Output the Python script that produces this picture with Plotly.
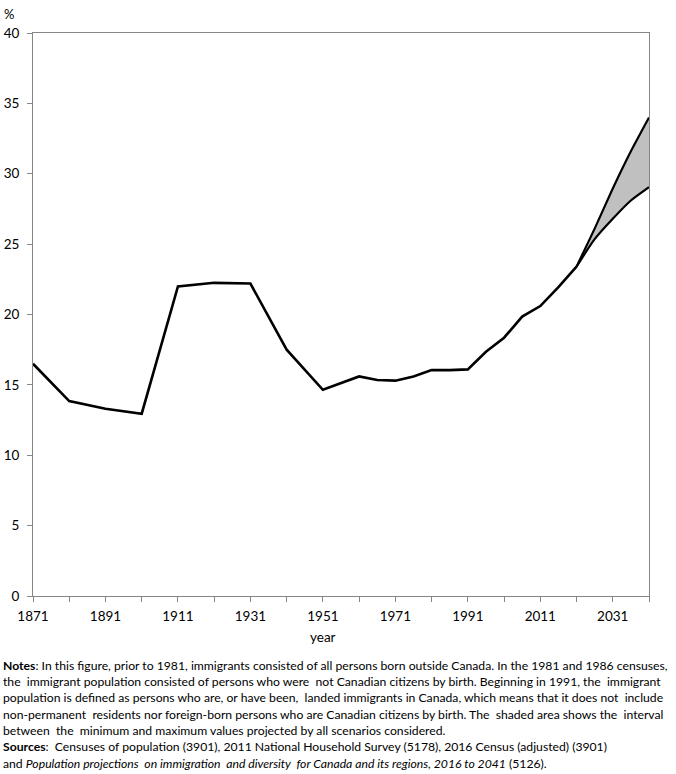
import plotly.graph_objects as go

years = [1871, 1881, 1891, 1901, 1911, 1921, 1931, 1941, 1951, 1956, 1961, 1966,
         1971, 1976, 1981, 1986, 1991, 1996, 2001, 2006, 2011, 2016, 2021]
share = [16.5, 13.85, 13.3, 12.95, 22.0, 22.25, 22.2, 17.5, 14.65, 15.1, 15.6, 15.35,
         15.3, 15.6, 16.05, 16.05, 16.1, 17.35, 18.35, 19.85, 20.6, 21.95, 23.4]

proj_years = [2021, 2026, 2031, 2036, 2041]
proj_low = [23.4, 25.35, 26.8, 28.1, 29.05]
proj_high = [23.4, 26.1, 28.95, 31.6, 34.0]

x_ticks = [1871, 1881, 1891, 1901, 1911, 1921, 1931, 1941, 1951, 1961, 1971, 1981,
           1991, 2001, 2011, 2021, 2031, 2041]
x_labels = ["1871", "", "1891", "", "1911", "", "1931", "", "1951", "", "1971", "",
            "1991", "", "2011", "", "2031", ""]
y_ticks = [0, 5, 10, 15, 20, 25, 30, 35, 40]

note_lines = [
    "<b>Notes</b>: In this figure, prior to 1981, immigrants consisted of all persons born outside Canada. In the 1981 and 1986 censuses,",
    "the  immigrant population consisted of persons who were  not Canadian citizens by birth. Beginning in 1991, the  immigrant",
    "population is defined as persons who are, or have been,  landed immigrants in Canada, which means that it does not  include",
    "non-permanent  residents nor foreign-born persons who are Canadian citizens by birth. The  shaded area shows the  interval",
    "between  the  minimum and maximum values projected by all scenarios considered.",
    "<b>Sources</b>:  Censuses of population (3901), 2011 National Household Survey (5178), 2016 Census (adjusted) (3901)",
    "and <i>Population projections  on immigration  and diversity  for Canada and its regions, 2016 to 2041</i> (5126).",
]
note_y_px = [665.5, 681.5, 697.5, 714, 730, 746.5, 763]

FONT = "Lato"
W, H = 676, 774
L, R, T, B = 33, 649, 33, 596

fig = go.Figure()
fig.add_trace(go.Scatter(x=proj_years, y=proj_low, mode="lines",
                         line=dict(color="black", width=2.2, shape="spline", smoothing=0.6),
                         showlegend=False, hoverinfo="skip"))
fig.add_trace(go.Scatter(x=proj_years, y=proj_high, mode="lines", fill="tonexty",
                         fillcolor="#c0c0c0",
                         line=dict(color="black", width=2.2, shape="spline", smoothing=0.6),
                         showlegend=False, hoverinfo="skip"))
fig.add_trace(go.Scatter(x=years, y=share, mode="lines",
                         line=dict(color="black", width=2.6),
                         showlegend=False))

def px_to_paper_x(px):
    return (px - L) / (R - L)

def px_to_paper_y(py):
    return (B - py) / (B - T)

annotations = [
    dict(text="%", x=px_to_paper_x(2), y=px_to_paper_y(14), xref="paper", yref="paper",
         xanchor="left", yanchor="middle", showarrow=False,
         font=dict(family=FONT, size=13, color="black")),
    dict(text="year", x=px_to_paper_x(323), y=px_to_paper_y(637), xref="paper", yref="paper",
         xanchor="center", yanchor="middle", showarrow=False,
         font=dict(family=FONT, size=13.5, color="black")),
]
for line, py in zip(note_lines, note_y_px):
    annotations.append(dict(text=line, x=px_to_paper_x(1), y=px_to_paper_y(py),
                            xref="paper", yref="paper", xanchor="left", yanchor="middle",
                            showarrow=False, align="left",
                            font=dict(family=FONT, size=12.2, color="black")))

fig.update_layout(
    width=W, height=H,
    margin=dict(l=L, r=W - R, t=T, b=H - B, autoexpand=False),
    paper_bgcolor="white", plot_bgcolor="white",
    font=dict(family=FONT, size=13, color="black"),
    annotations=annotations,
    xaxis=dict(range=[1871, 2041], tickmode="array", tickvals=x_ticks, ticktext=x_labels,
               showgrid=False, zeroline=False, showline=True, linecolor="#868686",
               linewidth=1, mirror=True, ticks="outside", ticklen=5, tickcolor="#868686",
               ticklabelstandoff=3, automargin=False,
               tickfont=dict(family=FONT, size=13.5, color="black")),
    yaxis=dict(range=[0, 40], tickmode="array", tickvals=y_ticks,
               showgrid=False, zeroline=False, showline=True, linecolor="#868686",
               linewidth=1, mirror=True, ticks="outside", ticklen=5, tickcolor="#868686",
               ticklabelstandoff=5, automargin=False,
               tickfont=dict(family=FONT, size=13.5, color="black")),
)

fig.write_html("out.html", config={"displayModeBar": False},
               post_script="document.body.style.margin='0px';document.body.style.padding='0px';")
